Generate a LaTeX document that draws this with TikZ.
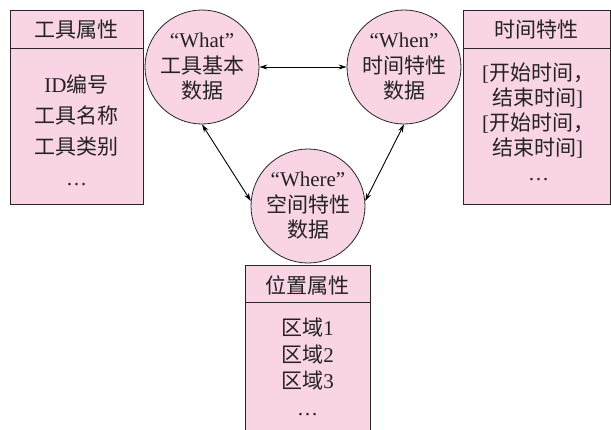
\documentclass[tikz,border=0pt]{standalone}
\usepackage{fontspec}
\setmainfont{Liberation Serif}
\newfontfamily\cjk{Noto Sans CJK SC}
\newcommand\zh[1]{{\cjk #1}}
\usetikzlibrary{arrows.meta}
\definecolor{pinkfill}{RGB}{248,212,228}
\definecolor{ink}{RGB}{35,35,35}
\begin{document}
\begin{tikzpicture}[x=1pt,y=-1pt,
  box/.style={draw=black!85, line width=0.8pt, fill=pinkfill, anchor=north west, inner sep=0pt},
  bubble/.style={circle, draw=black!85, line width=0.8pt, fill=pinkfill, minimum size=114pt, inner sep=0pt, align=center, text=ink, font=\fontsize{21}{25.5}\selectfont},
  lbl/.style={inner sep=0pt, text=ink, font=\fontsize{21}{24}\selectfont},
  link/.style={{Stealth[length=8pt,width=5pt]}-{Stealth[length=8pt,width=5pt]}, line width=0.9pt}]
\useasboundingbox (0,0) rectangle (611,429);
% boxes
\node[box, minimum width=133pt, minimum height=194pt] (toolbox) at (10,10) {};
\draw[line width=0.8pt, draw=black!85] ([yshift=-38pt]toolbox.north west) -- ([yshift=-38pt]toolbox.north east);
\node[box, minimum width=147pt, minimum height=194pt] (timebox) at (463,10) {};
\draw[line width=0.8pt, draw=black!85] ([yshift=-38pt]timebox.north west) -- ([yshift=-38pt]timebox.north east);
\node[box, minimum width=125pt, minimum height=175pt] (placebox) at (245,265) {};
\draw[line width=0.8pt, draw=black!85] ([yshift=-37pt]placebox.north west) -- ([yshift=-37pt]placebox.north east);
% box texts
\node[lbl] (toolhead) at (76.5,30) {\zh{工具属性}};
\node[lbl, align=center, font=\fontsize{21}{31}\selectfont] (toolbody) at (76.5,130) {ID\zh{编号}\\ \zh{工具名称}\\ \zh{工具类别}\\ …};
\node[lbl] (timehead) at (536.5,30) {\zh{时间特性}};
\node[lbl, align=left, anchor=west, font=\fontsize{21}{25}\selectfont] (timebody) at (482,122) {[\zh{开始时间，}\\ \hspace*{10pt}\zh{结束时间}]\\ {[}\zh{开始时间，}\\ \hspace*{10pt}\zh{结束时间}]\\ \hspace*{46pt}…};
\node[lbl] (placehead) at (307.5,285) {\zh{位置属性}};
\node[lbl, align=center, font=\fontsize{21}{26.5}\selectfont] (placebody) at (307.5,367) {\zh{区域}1\\ \zh{区域}2\\ \zh{区域}3\\ …};
% circles
\node[bubble] (what) at (202,67) {“What”\\ \zh{工具基本}\\ \zh{数据}};
\node[bubble] (when) at (404,67) {“When”\\ \zh{时间特性}\\ \zh{数据}};
\node[bubble] (where) at (308,206) {“Where”\\ \zh{空间特性}\\ \zh{数据}};
% connectors
\draw[link] (what.east) -- (when.west);
\draw[link] (what.south) -- (where.175);
\draw[link] (when.south) -- (where.5);
\end{tikzpicture}
\end{document}
